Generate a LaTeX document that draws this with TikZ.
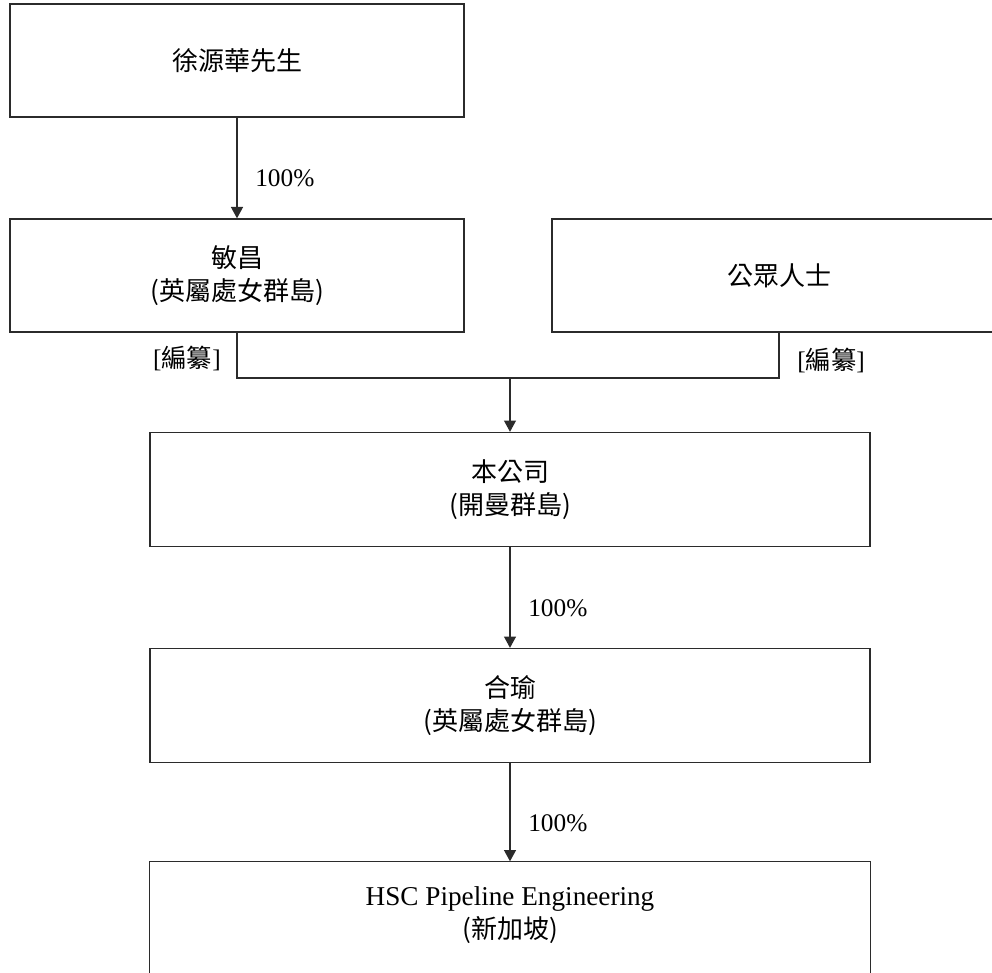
\documentclass[tikz,border=0pt]{standalone}
\usepackage{fontspec}
\setmainfont{Liberation Serif}
\newfontfamily\cjk{Noto Sans CJK TC}
\usetikzlibrary{arrows.meta,calc}
\definecolor{ln}{HTML}{2B2B2B}
\begin{document}
\begin{tikzpicture}[x=0.75pt,y=-0.75pt,
  box/.style={draw=ln, line width=1pt, inner sep=0pt, align=center, text=black,
    font=\cjk\fontsize{19.5}{24.75}\selectfont},
  smallbox/.style={box, minimum width=340.5pt, minimum height=84.75pt},
  widebox/.style={box, minimum width=540pt, minimum height=85.5pt},
  pct/.style={font=\rmfamily\fontsize{19}{22}\selectfont, text=black, inner sep=0pt},
  note/.style={font=\rmfamily\fontsize{19}{22}\selectfont, text=black, inner sep=0pt},
  conn/.style={draw=ln, line width=1pt},
  arr/.style={conn, -{Triangle[length=8.5pt,width=9pt]}}]
\useasboundingbox (0,0) rectangle (992,973);

\node[smallbox] (owner) at (237,60.5) {徐源華先生};
\node[smallbox] (minchang) at (237,275.5) {敏昌\\(英屬處女群島)};
\node[smallbox] (public) at (779,275.5) {公眾人士};
\node[widebox] (company) at (510,489.5) {本公司\\(開曼群島)};
\node[widebox] (heyu) at (510,705.5) {合瑜\\(英屬處女群島)};
\node[box, draw=none, minimum width=540pt, minimum height=79.5pt] (hsc) at (510,915)
  {{\rmfamily\fontsize{20.4}{24.75}\selectfont HSC Pipeline Engineering}\\(新加坡)};
\draw[conn] ($(hsc.north west)+(0,150)$) -- (hsc.north west) -- (hsc.north east) -- ++(0,150);

% owner -> minchang
\draw[arr] (owner.south) -- (minchang.north);
\node[pct, anchor=west] (p1) at (255,178) {100\%};

% joint connector
\coordinate (j) at (510,378);
\draw[conn] (minchang.south) |- (j) -| (public.south);
\draw[arr] (j) -- (company.north);
\node[note, anchor=east] (n1) at (221,358) {[{\cjk 編纂}]};
\node[note, anchor=west] (n2) at (797,360) {[{\cjk 編纂}]};

% company -> heyu
\draw[arr] (company.south) -- (heyu.north);
\node[pct, anchor=west] (p2) at (528,608) {100\%};

% heyu -> hsc
\draw[arr] (heyu.south) -- (hsc.north);
\node[pct, anchor=west] (p3) at (528,823) {100\%};
\end{tikzpicture}
\end{document}
